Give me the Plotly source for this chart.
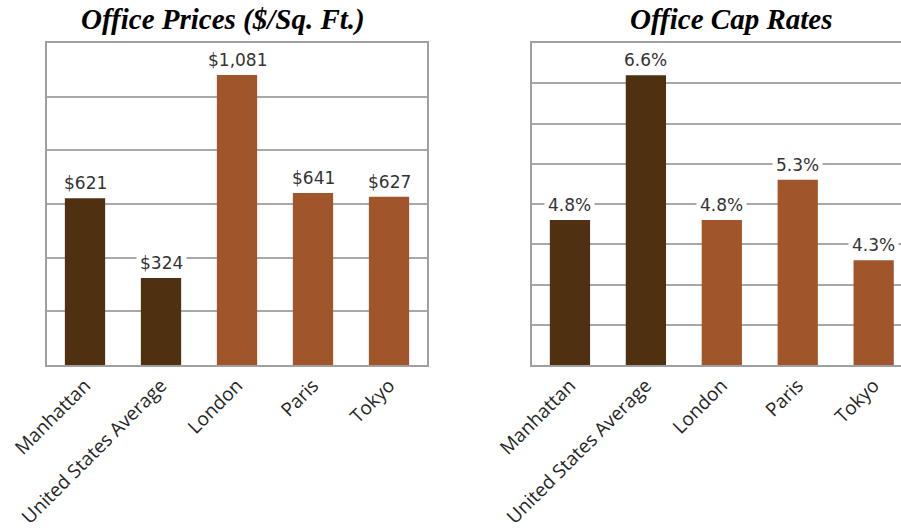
import plotly.graph_objects as go

# Office market comparison: price per square foot and cap rates
cities = ["Manhattan", "United States Average", "London", "Paris", "Tokyo"]
prices = [621, 324, 1081, 641, 627]
cap_rates = [4.8, 6.6, 4.8, 5.3, 4.3]

DARK = "#4f3112"
RUST = "#a0552a"
bar_colors = [DARK, DARK, RUST, RUST, RUST]

GRID = "#a8a8a8"
BORDER = "#a0a0a0"
TEXT = "#262626"
TICK_FONT = dict(family="Open Sans", size=19, color=TEXT)
VALUE_FONT = dict(family="DejaVu Sans", size=17, color="#333333")
TITLE_FONT = dict(family="Liberation Serif", size=29, color="#000000")

W, H = 901, 531

fig = go.Figure()
fig.add_trace(go.Bar(x=cities, y=prices, marker=dict(color=bar_colors, line=dict(width=0)),
                     xaxis="x", yaxis="y", hoverinfo="x+y"))
fig.add_trace(go.Bar(x=cities, y=cap_rates, marker=dict(color=bar_colors, line=dict(width=0)),
                     xaxis="x2", yaxis="y2", hoverinfo="x+y"))

annotations = []
for c, v in zip(cities, prices):
    annotations.append(dict(x=c, y=v, xref="x", yref="y", text=f"${v:,}",
                            showarrow=False, yanchor="bottom", yshift=1,
                            bgcolor="white", borderpad=3, font=VALUE_FONT))
for c, v in zip(cities, cap_rates):
    annotations.append(dict(x=c, y=v, xref="x2", yref="y2", text=f"{v:.1f}%",
                            showarrow=False, yanchor="bottom", yshift=1,
                            bgcolor="white", borderpad=3, font=VALUE_FONT))

# chart titles
annotations.append(dict(x=223 / W, y=1 - 19 / H, xref="paper", yref="paper",
                        text="<b><i>Office Prices ($/Sq. Ft.)</i></b>", showarrow=False,
                        xanchor="center", yanchor="middle", font=TITLE_FONT))
annotations.append(dict(x=731 / W, y=1 - 19 / H, xref="paper", yref="paper",
                        text="<b><i>Office Cap Rates</i></b>", showarrow=False,
                        xanchor="center", yanchor="middle", font=TITLE_FONT))

y_dom = [(H - 365) / H, (H - 43) / H]

fig.update_layout(
    width=W, height=H,
    margin=dict(l=0, r=0, t=0, b=0),
    paper_bgcolor="white", plot_bgcolor="white",
    showlegend=False, bargap=0.47,
    annotations=annotations,
    xaxis=dict(domain=[47 / W, 427 / W], range=[-0.5, 4.5], tickangle=-45,
               tickfont=TICK_FONT, showline=True, mirror=True, linecolor=BORDER,
               linewidth=2, ticks="", showgrid=False, automargin=False, fixedrange=True),
    yaxis=dict(domain=y_dom, range=[0, 1200], dtick=200, showticklabels=False,
               showgrid=True, gridcolor=GRID, gridwidth=1.5, zeroline=False,
               showline=True, mirror=True, linecolor=BORDER, linewidth=2,
               ticks="", automargin=False, fixedrange=True),
    xaxis2=dict(domain=[532 / W, 1.0], range=[-0.5, 4.36], tickangle=-45,
                tickfont=TICK_FONT, showline=True, mirror=True, linecolor=BORDER,
                linewidth=2, ticks="", showgrid=False, automargin=False, fixedrange=True,
                anchor="y2"),
    yaxis2=dict(domain=y_dom, range=[3, 7], dtick=0.5, showticklabels=False,
                showgrid=True, gridcolor=GRID, gridwidth=1.5, zeroline=False,
                showline=True, mirror=False, linecolor=BORDER, linewidth=2,
                ticks="", automargin=False, fixedrange=True, anchor="x2"),
)

fig.write_html("out.html", config={"displayModeBar": False})
